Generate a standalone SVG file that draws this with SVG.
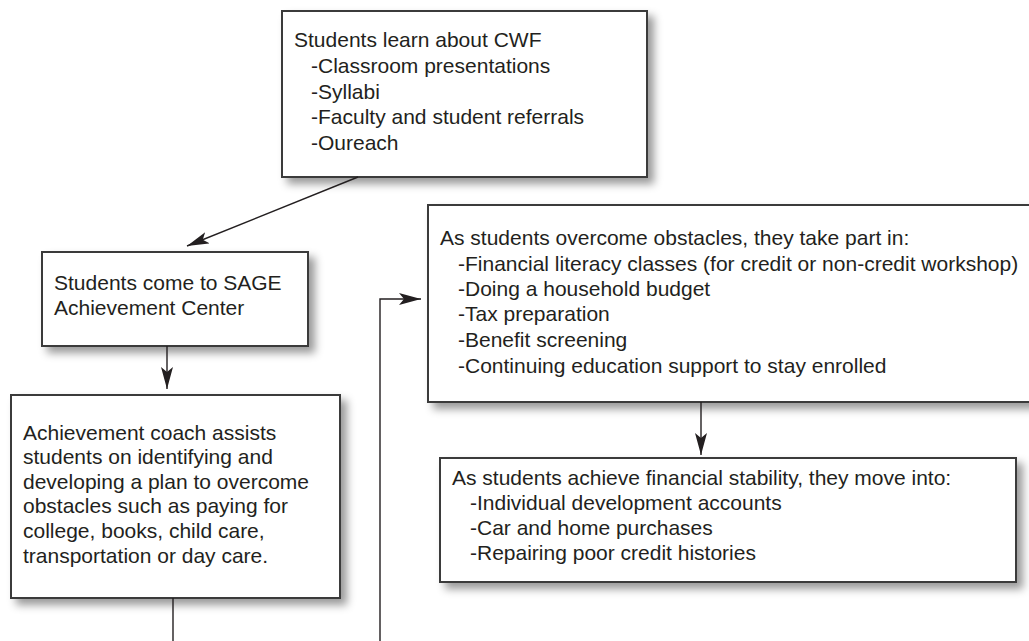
<svg xmlns="http://www.w3.org/2000/svg" width="1029" height="641" viewBox="0 0 1029 641">
  <defs>
    <filter id="shadow" x="-10%" y="-10%" width="130%" height="130%">
      <feDropShadow dx="6" dy="6" stdDeviation="4" flood-color="#000" flood-opacity="0.4"/>
    </filter>
    <marker id="arrow" markerUnits="userSpaceOnUse" markerWidth="24" markerHeight="14" refX="22" refY="6" orient="auto">
      <path d="M0,0 L22,6 L0,12 L5,6 Z" fill="#231f20"/>
    </marker>
  </defs>
  <style>
    .box { fill: #ffffff; stroke: #3a3a3a; stroke-width: 2; filter: url(#shadow); }
    .t { font-family: "Liberation Sans", Arial, sans-serif; font-size: 21px; fill: #231f20; }
    .conn { fill: none; stroke: #231f20; stroke-width: 1.4; }
  </style>
  <rect width="1029" height="641" fill="#ffffff"/>

  <g id="node-learn">
    <rect class="box" x="282" y="11" width="365" height="166"/>
    <text class="t" x="294" y="47">Students learn about CWF</text>
    <text class="t" x="311" y="73">-Classroom presentations</text>
    <text class="t" x="311" y="99">-Syllabi</text>
    <text class="t" x="311" y="124">-Faculty and student referrals</text>
    <text class="t" x="311" y="150">-Oureach</text>
  </g>

  <g id="node-sage">
    <rect class="box" x="42" y="252" width="266" height="94"/>
    <text class="t" x="54" y="290">Students come to SAGE</text>
    <text class="t" x="54" y="315">Achievement Center</text>
  </g>

  <g id="node-coach">
    <rect class="box" x="11" y="395" width="329" height="203"/>
    <text class="t" x="23" y="440">Achievement coach assists</text>
    <text class="t" x="23" y="464">students on identifying and</text>
    <text class="t" x="23" y="489">developing a plan to overcome</text>
    <text class="t" x="23" y="513">obstacles such as paying for</text>
    <text class="t" x="23" y="538">college, books, child care,</text>
    <text class="t" x="23" y="563">transportation or day care.</text>
  </g>

  <g id="node-overcome">
    <rect class="box" x="428" y="205" width="606" height="197"/>
    <text class="t" x="440" y="245">As students overcome obstacles, they take part in:</text>
    <text class="t" x="458" y="271">-Financial literacy classes (for credit or non-credit workshop)</text>
    <text class="t" x="458" y="296">-Doing a household budget</text>
    <text class="t" x="458" y="321">-Tax preparation</text>
    <text class="t" x="458" y="347">-Benefit screening</text>
    <text class="t" x="458" y="373">-Continuing education support to stay enrolled</text>
  </g>

  <g id="node-stability">
    <rect class="box" x="440" y="458" width="576" height="124"/>
    <text class="t" x="452" y="485">As students achieve financial stability, they move into:</text>
    <text class="t" x="470" y="510">-Individual development accounts</text>
    <text class="t" x="470" y="535">-Car and home purchases</text>
    <text class="t" x="470" y="560">-Repairing poor credit histories</text>
  </g>

  <g id="connectors">
    <line class="conn" x1="358" y1="177" x2="187" y2="246" marker-end="url(#arrow)"/>
    <line class="conn" x1="167" y1="346" x2="167" y2="389" marker-end="url(#arrow)"/>
    <line class="conn" x1="701" y1="402" x2="701" y2="455" marker-end="url(#arrow)"/>
    <line class="conn" x1="173" y1="598" x2="173" y2="645"/>
    <path class="conn" d="M380,645 L380,299 L421,299" marker-end="url(#arrow)"/>
  </g>
</svg>
